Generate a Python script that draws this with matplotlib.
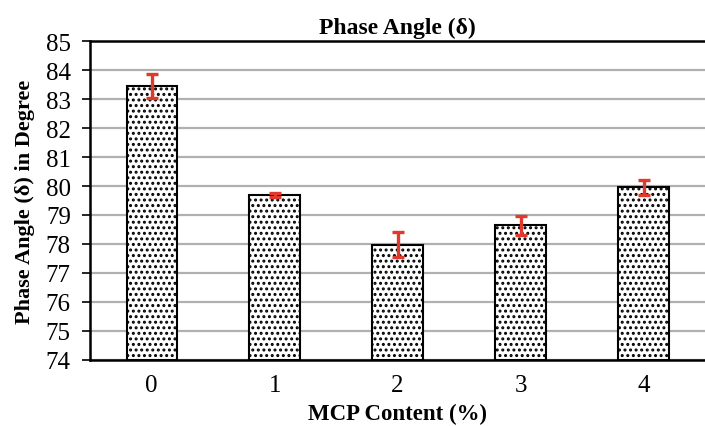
import numpy as np
import matplotlib.pyplot as plt

plt.rcParams['font.family'] = ['Liberation Serif', 'DejaVu Serif']
plt.rcParams['hatch.color'] = '#6e6e6e'
plt.rcParams['hatch.linewidth'] = 1.4

# MCP content vs phase angle
categories = ["0", "1", "2", "3", "4"]
phase_angle = [83.45, 79.68, 77.98, 78.65, 79.95]
errors = [0.40, 0.07, 0.42, 0.33, 0.25]

fig = plt.figure(figsize=(7.05, 4.27), dpi=100)
ax = fig.add_axes([0.128, 0.1546, 0.872, 0.747])

x = np.arange(len(categories))
ax.bar(x, [v - 74 for v in phase_angle], bottom=74, width=0.41,
       facecolor='white', edgecolor='black', linewidth=1.5, hatch='...', zorder=3)
ax.errorbar(x, phase_angle, yerr=errors, fmt='none', ecolor='#e03a2e',
            elinewidth=2.4, capsize=4.5, capthick=2.4, zorder=4)

ax.set_xlim(-0.5, 4.5)
ax.set_ylim(74, 85)
ax.set_yticks(range(74, 86))
ax.set_xticks(x)
ax.set_xticklabels(categories)
ax.yaxis.grid(True, color='#b0b0b0', linewidth=1.6, zorder=0)
ax.set_axisbelow(True)

ax.tick_params(axis='y', labelsize=18, length=6, width=1.2, direction='out', pad=8)
ax.tick_params(axis='x', labelsize=18, length=0, pad=10)

for side in ['left', 'bottom', 'top']:
    ax.spines[side].set_linewidth(1.8)
    ax.spines[side].set_color('black')
ax.spines['right'].set_visible(False)

ax.set_title("Phase Angle (δ)", fontsize=17, fontweight='bold', pad=6)
ax.set_xlabel("MCP Content (%)", fontsize=16.5, fontweight='bold', labelpad=5)
ax.set_ylabel("Phase Angle (δ) in Degree", fontsize=16, fontweight='bold', labelpad=8)

fig.savefig("out.png", dpi=100)
